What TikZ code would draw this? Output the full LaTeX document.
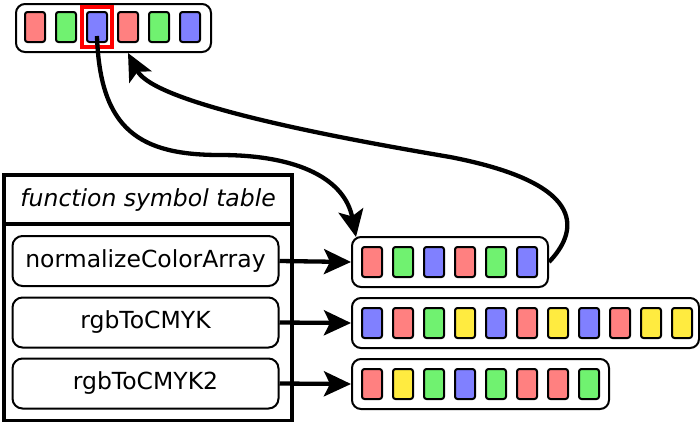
\documentclass[tikz,border=0pt]{standalone}
\usepackage{fontspec}
\setmainfont{DejaVu Sans}
\usetikzlibrary{arrows.meta}
\definecolor{cR}{HTML}{FF8080}
\definecolor{cG}{HTML}{70F270}
\definecolor{cB}{HTML}{8080FF}
\definecolor{cY}{HTML}{FFEB40}
\begin{document}
\begin{tikzpicture}[x=1pt,y=-1pt,
 cell/.style={draw, line width=2pt, rounded corners=2.5pt, minimum width=20pt, minimum height=30pt, inner sep=0pt, anchor=north west},
 arrbox/.style={draw, line width=2pt, rounded corners=9pt, inner sep=0pt, anchor=north west, minimum height=50pt},
 fbox/.style={draw, line width=2pt, rounded corners=10pt, minimum width=266pt, minimum height=50pt, inner sep=0pt, font=\fontsize{23.5}{28}\selectfont},
 tbl/.style={draw, line width=4.2pt, minimum width=288pt, inner sep=0pt, anchor=north west},
 link/.style={line width=4.3pt, -{Stealth[length=27pt,width=25pt,inset=6pt]}},
]
\useasboundingbox (0,0) rectangle (700,421);

% top array
\node[arrbox, minimum width=195pt, minimum height=48pt] (top) at (15,3) {};
\foreach \c [count=\i] in {cR,cG,cB,cR,cG,cB}
  \node[cell, fill=\c] (t\i) at ({24+31*(\i-1)},11) {};
\node[draw=red, line width=3.2pt, minimum width=30pt, minimum height=40pt, inner sep=0pt] (hl) at (t3.center) {};

% table
\node[tbl, minimum height=49pt, font=\fontsize{23.5}{28}\selectfont\itshape] (hdr) at (2,173) {function symbol table};
\node[tbl, minimum height=197pt] (body) at (2,222) {};
\node[fbox] (f1) at (145.5,261) {normalizeColorArray};
\node[fbox] (f2) at (145.5,322.5) {rgbToCMYK};
\node[fbox] (f3) at (145.5,383.5) {rgbToCMYK2};

% result arrays
\node[arrbox, minimum width=196pt] (a1) at (351,236) {};
\foreach \c [count=\i] in {cR,cG,cB,cR,cG,cB}
  \node[cell, fill=\c] (a1c\i) at ({361+31*(\i-1)},246) {};
\node[arrbox, minimum width=347pt] (a2) at (351,297) {};
\foreach \c [count=\i] in {cB,cR,cG,cY,cB,cR,cY,cB,cR,cY,cY}
  \node[cell, fill=\c] (a2c\i) at ({361+31*(\i-1)},307) {};
\node[arrbox, minimum width=257pt] (a3) at (351,358) {};
\foreach \c [count=\i] in {cR,cY,cG,cB,cG,cR,cR,cG}
  \node[cell, fill=\c] (a3c\i) at ({361+31*(\i-1)},368) {};

% connectors
\draw[link] (f1.east) -- (a1.west);
\draw[link] (f2.east) -- (a2.west);
\draw[link] (f3.east) -- (a3.west);

\draw[link] ([yshift=-9pt]t3.center) .. controls (100,130) and (140,155) .. (220,155)
  .. controls (300,155) and (345,180) .. ([xshift=5pt,yshift=-1pt]a1.north west);
\draw[link] (a1.east) .. controls (575,235) and (595,185) .. (450,157)
  .. controls (350,140) and (155,105) .. ([yshift=-10pt]t4.south);
\end{tikzpicture}
\end{document}
